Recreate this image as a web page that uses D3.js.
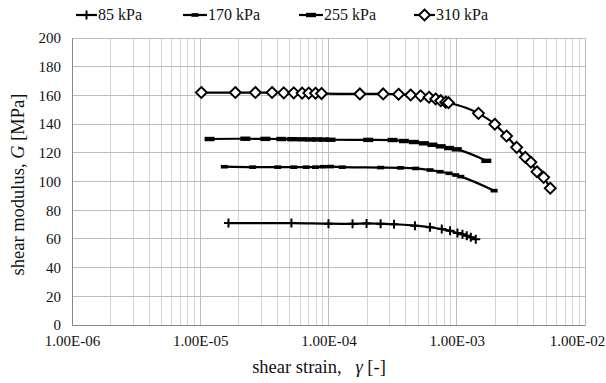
<!DOCTYPE html>
<html><head><meta charset="utf-8">
<script src="https://cdn.jsdelivr.net/npm/d3@7"></script>
<style>body{margin:0;background:#fff}svg{display:block}text{font-family:"Liberation Serif","Times New Roman",serif !important;fill:#111}</style>
</head><body><svg id="c" width="606" height="383"></svg>
<script>
const seriesNames = ["85 kPa","170 kPa","255 kPa","310 kPa"];
const strain85 = [1.66e-5,5.14e-5,1.0e-4,1.54e-4,1.98e-4,2.55e-4,3.24e-4,4.72e-4,6.19e-4,7.64e-4,8.87e-4,1.013e-3,1.108e-3,1.197e-3,1.287e-3,1.407e-3];
const g85 = [71,71,70.6,70.5,70.8,70.5,70.2,69.2,68.1,66.9,65.7,64.1,63.2,62.2,61.1,59.8];
const strain170 = [1.54e-5,2.56e-5,4.02e-5,5.36e-5,6.70e-5,7.92e-5,9.09e-5,1.037e-4,1.28e-4,2.55e-4,3.65e-4,4.78e-4,6.19e-4,7.41e-4,8.71e-4,9.82e-4,1.075e-3,1.956e-3];
const g170 = [110.3,110.0,110.0,110.0,110.0,110.0,110.3,110.4,110.0,109.7,109.5,109.1,108.0,106.8,105.7,104.5,103.4,93.6];
const strain255 = [1.182e-5,2.247e-5,3.22e-5,4.29e-5,5.21e-5,6.23e-5,7.23e-5,8.16e-5,9.19e-5,1.037e-4,2.04e-4,3.16e-4,3.875e-4,4.64e-4,5.55e-4,6.46e-4,7.50e-4,8.71e-4,1.0e-3,1.7e-3];
const g255 = [129.6,129.8,129.7,129.6,129.5,129.4,129.3,129.3,129.2,129.1,129.0,128.9,128.2,127.5,126.6,125.6,124.5,123.3,122.4,114.4];
const strain310 = [1.02e-5,1.877e-5,2.69e-5,3.63e-5,4.48e-5,5.36e-5,6.23e-5,7.02e-5,7.92e-5,8.82e-5,1.756e-4,2.67e-4,3.52e-4,4.37e-4,5.23e-4,6.08e-4,6.85e-4,7.50e-4,8.21e-4,8.61e-4,1.477e-3,1.98e-3,2.445e-3,2.93e-3,3.42e-3,3.785e-3,4.22e-3,4.76e-3,5.36e-3];
const g310 = [162,162,162,162,161.8,161.8,161.6,161.6,161.5,161.3,161,161,160.8,160.3,159.7,158.7,157.5,156.3,155.3,154.9,147.5,139.9,131.7,123.8,116.9,113.4,106.8,102.9,95.3];
const xTicks = [1e-6,1e-5,1e-4,1e-3,1e-2];
const xTickLabels = ["1.00E-06","1.00E-05","1.00E-04","1.00E-03","1.00E-02"];
const yTicks = [0,20,40,60,80,100,120,140,160,180,200];

const FONT = '"Liberation Serif","Times New Roman",serif';
const svg = d3.select("#c");
const L=72,R=585,T=38,B=325;
const x = d3.scaleLog().domain([1e-6,1e-2]).range([L,R]);
const y = d3.scaleLinear().domain([0,200]).range([B,T]);

const minor=[];
for(let e=-6;e<-2;e++) for(let m=2;m<=9;m++) minor.push(m*Math.pow(10,e));
svg.append("g").selectAll("line").data(minor).join("line")
  .attr("x1",d=>x(d)).attr("x2",d=>x(d)).attr("y1",T).attr("y2",B)
  .attr("stroke","#d4d4d4").attr("stroke-width",1).attr("shape-rendering","crispEdges");
svg.append("g").selectAll("line").data(xTicks).join("line")
  .attr("x1",d=>x(d)).attr("x2",d=>x(d)).attr("y1",T).attr("y2",B)
  .attr("stroke","#bcbcbc").attr("stroke-width",1).attr("shape-rendering","crispEdges");
svg.append("g").selectAll("line").data(yTicks).join("line")
  .attr("x1",L).attr("x2",R).attr("y1",d=>y(d)).attr("y2",d=>y(d))
  .attr("stroke","#bcbcbc").attr("stroke-width",1).attr("shape-rendering","crispEdges");

const yAxis = d3.axisLeft(y).tickValues(yTicks).tickSize(0).tickPadding(11);
const gy = svg.append("g").attr("transform",`translate(${L},0)`).call(yAxis);
gy.attr("font-family",null).attr("font-size",null);
gy.select(".domain").attr("stroke","#888");
gy.selectAll("text").style("font-size","15px").style("font-family",FONT).attr("fill","#111");
const xAxis = d3.axisBottom(x).tickValues(xTicks).tickFormat((d,i)=>xTickLabels[i]).tickSize(0).tickPadding(10);
const gx = svg.append("g").attr("transform",`translate(0,${B})`).call(xAxis);
gx.attr("font-family",null).attr("font-size",null);
gx.select(".domain").attr("stroke","#888");
gx.selectAll("text").style("font-size","15px").style("font-family",FONT).attr("fill","#111");
gx.selectAll(".tick").filter(d=>d===1e-2).select("text").attr("dx",-8);

const yt = svg.append("text").attr("transform",`translate(24,${(T+B)/2+3}) rotate(-90)`).attr("text-anchor","middle").style("font-size","18.5px").style("font-family",FONT);
yt.append("tspan").text("shear modulus, ");
yt.append("tspan").attr("font-style","italic").text("G");
yt.append("tspan").text(" [MPa]");
const xt = svg.append("text").attr("x",319).attr("y",373).attr("text-anchor","middle").style("font-size","18.5px").style("font-family",FONT).style("white-space","pre");
xt.append("tspan").text("shear strain,   ");
xt.append("tspan").attr("font-style","italic").text("γ");
xt.append("tspan").text(" [-]");

const data = [
  {name:seriesNames[0],s:strain85,g:g85,m:"cross"},
  {name:seriesNames[1],s:strain170,g:g170,m:"dashS"},
  {name:seriesNames[2],s:strain255,g:g255,m:"dashL"},
  {name:seriesNames[3],s:strain310,g:g310,m:"diamond"}
];
const line = d3.line().x(d=>x(d[0])).y(d=>y(d[1])).curve(d3.curveMonotoneX);
function drawMarker(g,type,cx,cy){
  if(type==="cross"){
    g.append("path").attr("d",`M${cx-4.5},${cy}H${cx+4.5}M${cx},${cy-4.5}V${cy+4.5}`).attr("stroke","#000").attr("stroke-width",2);
  } else if(type==="dashS"){
    g.append("rect").attr("x",cx-3.5).attr("y",cy-1.8).attr("width",7).attr("height",3.6).attr("fill","#000");
  } else if(type==="dashL"){
    g.append("rect").attr("x",cx-5).attr("y",cy-2.2).attr("width",10).attr("height",4.4).attr("fill","#000");
  } else {
    g.append("path").attr("d",`M${cx},${cy-5.5}L${cx+5.5},${cy}L${cx},${cy+5.5}L${cx-5.5},${cy}Z`).attr("fill","#fff").attr("stroke","#000").attr("stroke-width",1.9);
  }
}
data.forEach(sr=>{
  const pts = sr.s.map((v,i)=>[v,sr.g[i]]);
  svg.append("path").datum(pts).attr("d",line).attr("fill","none").attr("stroke","#000").attr("stroke-width",2.2);
  const mg = svg.append("g");
  pts.forEach(p=>drawMarker(mg,sr.m,x(p[0]),y(p[1])));
});

const legX = [76,183,299,414];
const leg = svg.append("g");
data.forEach((sr,i)=>{
  const lx=legX[i], ly=15, w=(i===0?21:(i===3?21:24));
  leg.append("line").attr("x1",lx).attr("x2",lx+w).attr("y1",ly).attr("y2",ly).attr("stroke","#000").attr("stroke-width",2.2);
  drawMarker(leg,sr.m,lx+w/2,ly);
  leg.append("text").attr("x",lx+w+1).attr("y",ly+5).style("font-size","16px").style("font-family",FONT).text(sr.name);
});
</script></body></html>
